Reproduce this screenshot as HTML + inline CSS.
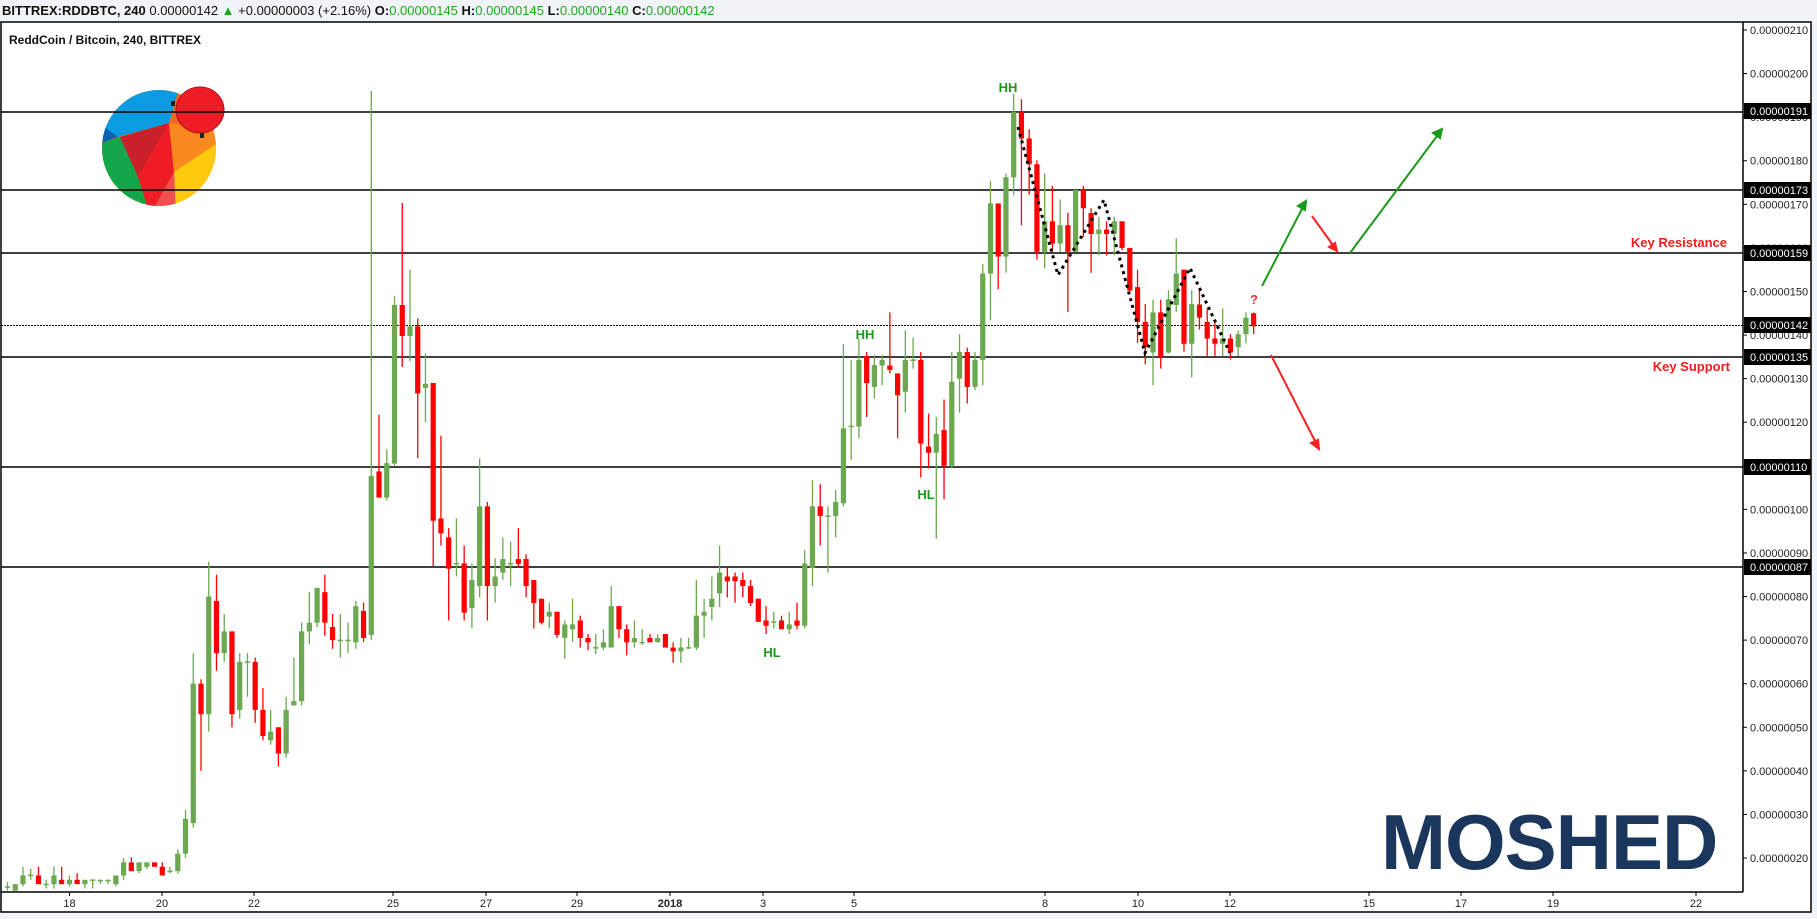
<!DOCTYPE html>
<html><head><meta charset="utf-8"><style>
html,body{margin:0;padding:0;background:#f0f3f7;}
body{width:1817px;height:919px;overflow:hidden;position:relative;font-family:"Liberation Sans",Arial,sans-serif;}
svg{position:absolute;left:0;top:0;}
</style></head><body>
<svg id="s" width="1817" height="919" xmlns="http://www.w3.org/2000/svg" font-family="Liberation Sans, Arial, sans-serif">
<rect x="0" y="0" width="1817" height="919" fill="#f0f3f7"/>
<rect x="1" y="22" width="1810" height="890" fill="#fff" stroke="#000" stroke-width="1.5"/>
<line x1="1743" y1="22" x2="1743" y2="892" stroke="#000" stroke-width="1.5"/>
<line x1="1" y1="892" x2="1743" y2="892" stroke="#000" stroke-width="1.5"/>
<text x="2" y="15" font-size="13" fill="#111"><tspan font-weight="bold">BITTREX:RDDBTC, 240</tspan> 0.00000142 <tspan fill="#1fa61f">▲</tspan> +0.00000003 (+2.16%) <tspan font-weight="bold">O:</tspan><tspan fill="#1fa61f">0.00000145</tspan> <tspan font-weight="bold">H:</tspan><tspan fill="#1fa61f">0.00000145</tspan> <tspan font-weight="bold">L:</tspan><tspan fill="#1fa61f">0.00000140</tspan> <tspan font-weight="bold">C:</tspan><tspan fill="#1fa61f">0.00000142</tspan></text>
<text x="9" y="44" font-size="12" font-weight="bold" fill="#111">ReddCoin / Bitcoin, 240, BITTREX</text>
<defs><clipPath id="lc"><ellipse cx="159" cy="148" rx="57" ry="58"/></clipPath></defs>
<g clip-path="url(#lc)">
<rect x="95" y="85" width="130" height="130" fill="#f26b21"/>
<polygon points="95,85 180,85 169,123 118,137 95,137" fill="#0a9be0"/>
<polygon points="95,120 118,137 102,143 95,143" fill="#0a62b0"/>
<polygon points="95,143 102,143 120,137 138,177 150,215 95,215" fill="#13a64a"/>
<polygon points="120,137 169,123 138,177" fill="#c9202a"/>
<polygon points="169,123 174,172 150,215 138,177" fill="#ee1c25"/>
<polygon points="169,123 225,133 225,140 174,172" fill="#f7891f"/>
<polygon points="174,172 225,138 225,215 176,215" fill="#ffc90d"/>
<polygon points="150,215 174,172 176,215" fill="#f0504f"/>
<polygon points="138,200 150,215 135,215" fill="#7cc242"/>
</g>
<ellipse cx="200" cy="110" rx="24" ry="23" fill="#ee1c25" stroke="#b31218" stroke-width="1"/>
<rect x="171" y="101" width="4" height="5" fill="#222"/><rect x="200" y="133" width="4" height="5" fill="#222"/>
<g stroke="#000" stroke-width="1.5">
<line x1="1" y1="112" x2="1743" y2="112"/><line x1="1" y1="190" x2="1743" y2="190"/><line x1="1" y1="253" x2="1743" y2="253"/><line x1="1" y1="357" x2="1743" y2="357"/><line x1="1" y1="467" x2="1743" y2="467"/><line x1="1" y1="567" x2="1743" y2="567"/>
</g>
<line x1="1" y1="325.5" x2="1743" y2="325.5" stroke="#000" stroke-width="1" stroke-dasharray="2 1"/>
<g id="candles"></g>
<polyline points="1018,127 1058,275 1104,200 1145,353 1190,268 1230,353" fill="none" stroke="#000" stroke-width="3" stroke-dasharray="3 4"/>
<g font-size="13" font-weight="bold" fill="#1a9a1a">
<text x="1008" y="92" text-anchor="middle">HH</text>
<text x="865" y="339" text-anchor="middle">HH</text>
<text x="926" y="499" text-anchor="middle">HL</text>
<text x="772" y="657" text-anchor="middle">HL</text>
</g>
<text x="1254" y="304" font-size="13" font-weight="bold" fill="#f23030" text-anchor="middle">?</text>
<text x="1727" y="247" font-size="13" font-weight="bold" fill="#f21c1c" text-anchor="end">Key Resistance</text>
<text x="1730" y="371" font-size="13" font-weight="bold" fill="#f21c1c" text-anchor="end">Key Support</text>
<g stroke="#1a9a1a" stroke-width="2" fill="#1a9a1a">
<line x1="1262" y1="286" x2="1304" y2="205"/><polygon points="1306,201 1298,206 1305,210" />
<line x1="1350" y1="253" x2="1440" y2="132"/><polygon points="1442,129 1433,133 1440,138"/>
</g>
<g stroke="#ff2020" stroke-width="2" fill="#ff2020">
<line x1="1312" y1="216" x2="1335" y2="248"/><polygon points="1337,251 1329,247 1335,243"/>
<line x1="1271" y1="355" x2="1317" y2="445"/><polygon points="1319,449 1311,443 1318,440"/>
</g>
<text x="1381" y="869" font-size="78" font-weight="bold" fill="#1b365d" letter-spacing="-1">MOSHED</text>
<g id="yax" font-size="11" fill="#222"></g>
<g font-size="11" fill="#222" text-anchor="middle">
<text x="69.5" y="907">18</text><text x="162" y="907">20</text><text x="254" y="907">22</text><text x="393" y="907">25</text><text x="486" y="907">27</text><text x="577" y="907">29</text><text x="670" y="907" font-weight="bold">2018</text><text x="763" y="907">3</text><text x="854" y="907">5</text><text x="1045" y="907">8</text><text x="1138" y="907">10</text><text x="1230" y="907">12</text><text x="1369" y="907">15</text><text x="1461" y="907">17</text><text x="1553" y="907">19</text><text x="1696" y="907">22</text>
</g>
<g stroke="#000" stroke-width="1">
<line x1="69.5" y1="892" x2="69.5" y2="896"/><line x1="162" y1="892" x2="162" y2="896"/><line x1="254" y1="892" x2="254" y2="896"/><line x1="393" y1="892" x2="393" y2="896"/><line x1="486" y1="892" x2="486" y2="896"/><line x1="577" y1="892" x2="577" y2="896"/><line x1="670" y1="892" x2="670" y2="896"/><line x1="763" y1="892" x2="763" y2="896"/><line x1="854" y1="892" x2="854" y2="896"/><line x1="1045" y1="892" x2="1045" y2="896"/><line x1="1138" y1="892" x2="1138" y2="896"/><line x1="1230" y1="892" x2="1230" y2="896"/><line x1="1369" y1="892" x2="1369" y2="896"/><line x1="1461" y1="892" x2="1461" y2="896"/><line x1="1553" y1="892" x2="1553" y2="896"/><line x1="1696" y1="892" x2="1696" y2="896"/>
</g>
<g id="boxes" font-size="11"></g>
</svg>
<script>
var NS="http://www.w3.org/2000/svg";
function Y(p){return 30+(210-p)*4.358;}
var D=[[13.5,14.5,12.5,13.5],[12.5,14,12.5,14],[14,18,13.5,16],[16,17.5,15,16.2],[16,18,14,14],[14,15,13,14.1],[14,18,13,16],[15,18,14,14],[14,16,13.5,15],[15,16.5,14,14],[14,15,13,15],[15,15,13,15.1],[15,15.1,14,15],[15,15.1,14,15],[14,16,13.5,16],[16,20,15,19],[19,20.2,17,17],[17,19,16.5,19],[18,19,17.5,19],[19,19,18,18],[18,19,16,16],[17,18,16.5,17.1],[17,22,16.5,21],[21,31,20,29],[28,67,27,60],[60,61,40,53],[53,88,49,80],[79,85,63,67],[67,76,65,72],[72,72,50,53],[54,67,52,65],[65,67,57,65.1],[65,66,51,54],[54,59,47,48],[47,54,46,49],[50,50,41,44],[44,57,43,54],[55,66,55,56],[56,74,55,72],[72,81,69,74],[74,82,73,82],[81,85,71,74],[73,76,68,70],[70,76,66,70.1],[70,74,67,70.1],[69.5,79,68,77.8],
[76.7,78.6,69.6,70.5],[71.2,196,70,107.7],[108.7,121.7,102.7,102.7],[102.7,113.8,102,110.6],[110.5,148.9,109.8,146.9],[146.9,170.3,132.7,139.8],[139.8,155,134,142],[142,143.8,111.8,126.6],[127.9,135.8,120,128.8],[129,129,86.8,97.4],[97.9,116.9,91.7,94.5],[93.6,95.7,74.5,86.4],[87.6,97.9,84.6,87.7],[87.6,91.7,74.5,76.3],[77.4,87.6,72.7,83.8],[82.4,111.7,79.8,100.7],[100.7,101.7,74.5,82.4],[82.4,88.8,78.6,84.6],[85.5,93.6,83.8,88.6],[87.6,92.6,82.4,87.7],[88.6,95.7,86.8,87.5],[88.6,89.7,79.8,82.4],[83.8,83.8,72.7,78.5],[79.5,79.5,73.6,74],[75.4,78.6,72.7,76.5],[76.5,76.5,70.5,71.2],[70.5,74.5,65.7,73.6],[72.5,79.5,69.6,73.6],[74.5,75.6,68.3,70.5],[70.5,71.4,67.7,69.5],[68.3,71.4,66.8,68.4],[68.3,72.5,67.7,69.5],[68.3,82.4,68.3,77.8],[77.8,77.8,70.5,72.5],[72.5,73.6,66.5,69.5],[69.5,74.5,68.3,70.5],[69.5,72.5,68.9,69.6],[70.5,71.4,69.5,69.5],[69.5,71.4,69.5,70.5],[71.4,71.4,68.3,68.3],[68.3,69.5,64.8,67.4],[67.4,70.5,64.8,68.3],[68.3,70.5,68,68.4],[68.3,83.8,67.7,75.6],[75.6,79.5,70.5,76.5],[77.6,84.6,74.5,79.5],[80.7,91.7,77.6,85.5],[84.6,86.6,79.8,83.5],[84.6,85.5,78.6,83.5],[83.8,85.5,79.8,82.4],[82.4,83.8,77.8,78.5],[79.5,79.5,74.2,74.2],[74.5,77.8,71.4,73.3],[74.2,76.5,72.7,74.3],[74.5,75.6,72.5,72.5],[72.5,76.5,71.4,73.6],[74.5,78.6,72.5,73.3],[73.3,90.6,72.7,87.6],[86.6,106.7,82.4,100.7],[100.7,105.8,91.7,98.5],[98.5,100.7,85.5,98.6],[98.5,104.5,93.6,101.7],[101.4,137.9,100.7,118.6],
[119.1,134.3,111.3,119.2],[119,139.2,116.3,134.3],[135.2,136.1,121.2,129],[128.1,135.4,125.4,133.1],[133,135.4,128.5,134.3],[133,145.2,131.2,132],[131.2,131.2,116.3,126.2],[127,141.1,122.2,134.3],[134.3,139.4,132.3,134.4],[134.3,136.1,107.3,115.1],[114.4,122,109.4,113],[113,121.2,93.3,117.3],[118.2,125.2,102.3,110],[110,136.1,109.4,129.3],[130,140.2,122.2,136.1],[136.1,137.1,124.3,128.1],[128.1,136.1,127.4,134.3],[134.3,156.3,128.5,154.1],[154.1,175.4,143.4,170.2],[170.2,170.2,150.5,158],[158,177.1,154.3,176.2],[176.2,195.4,172.1,191.2],[191.2,194.1,165.2,185.1],[185.1,187.2,172.2,179.2],[179.2,180.1,157.3,159.1],[159.1,177.1,155.3,166.1],[166.1,174.2,159.1,161],[161,171.1,159.1,165.2],[165.2,168.1,145.3,159.1],[159.1,173.3,159,173.3],[173.3,174.2,162.5,169.1],[168,169.1,154.3,163.2],[163.2,167.1,158.3,164.2],[164.2,166.1,158.3,163.2],[163.2,167.1,158.3,166.1],[166.1,166.1,159.5,160],[160,160,150,150.2],[151,155,138.2,143],[143,147.1,133.3,137.2],[136,148.1,128.5,145.2],[145.2,148.1,132.3,135],[136,150.3,135.8,148.2],[146.9,162.2,145.3,154.1],[155,155,136.2,138],[138,150.3,130.3,147.1],[147,150.3,141.3,144],[143,146.1,135.2,139.2],[139.2,143.1,135.2,138],[138,146.1,135.2,139.2],[139.2,140.2,134.4,136],[137.2,141,135.2,140.2],[140.2,145.2,138.1,144],[145,145.2,140.2,142]];
var g=document.getElementById("candles"),h="";
for(var i=0;i<D.length;i++){var d=D[i],o=d[0],hi=d[1],lo=d[2],c=d[3];var x=7.5+7.74*i;var col=c>=o?"#6ba84f":"#ff0000";
var yt=Y(Math.max(o,c)),yb=Y(Math.min(o,c));if(yb-yt<1.5){yb=yt+1.5;}
h+='<line x1="'+x+'" x2="'+x+'" y1="'+Y(hi)+'" y2="'+Y(lo)+'" stroke="'+col+'" stroke-width="1.3"/>';
h+='<rect x="'+(x-2.6)+'" y="'+yt+'" width="5.2" height="'+(yb-yt)+'" fill="'+col+'"/>';}
g.innerHTML=h;
var ya=document.getElementById("yax"),s="";
[210,200,190,180,170,160,150,140,130,120,110,100,90,80,70,60,50,40,30,20].forEach(function(p){var y=Y(p);
s+='<line x1="1743" x2="1747" y1="'+y+'" y2="'+y+'" stroke="#000"/><text x="1750" y="'+(y+4)+'">0.00000'+(p<100?'0':'')+p+'</text>';});
ya.innerHTML=s;
var b=document.getElementById("boxes"),t="";
[[191,111],[173,190],[159,253],[142,325],[135,357],[110,467],[87,567]].forEach(function(a){var y=a[1];
t+='<rect x="1744" y="'+(y-8)+'" width="67" height="16" fill="#000"/><text x="1750" y="'+(y+4)+'" fill="#fff">0.00000'+(a[0]<100?'0':'')+a[0]+'</text>';});
b.innerHTML=t;
</script>
</body></html>
